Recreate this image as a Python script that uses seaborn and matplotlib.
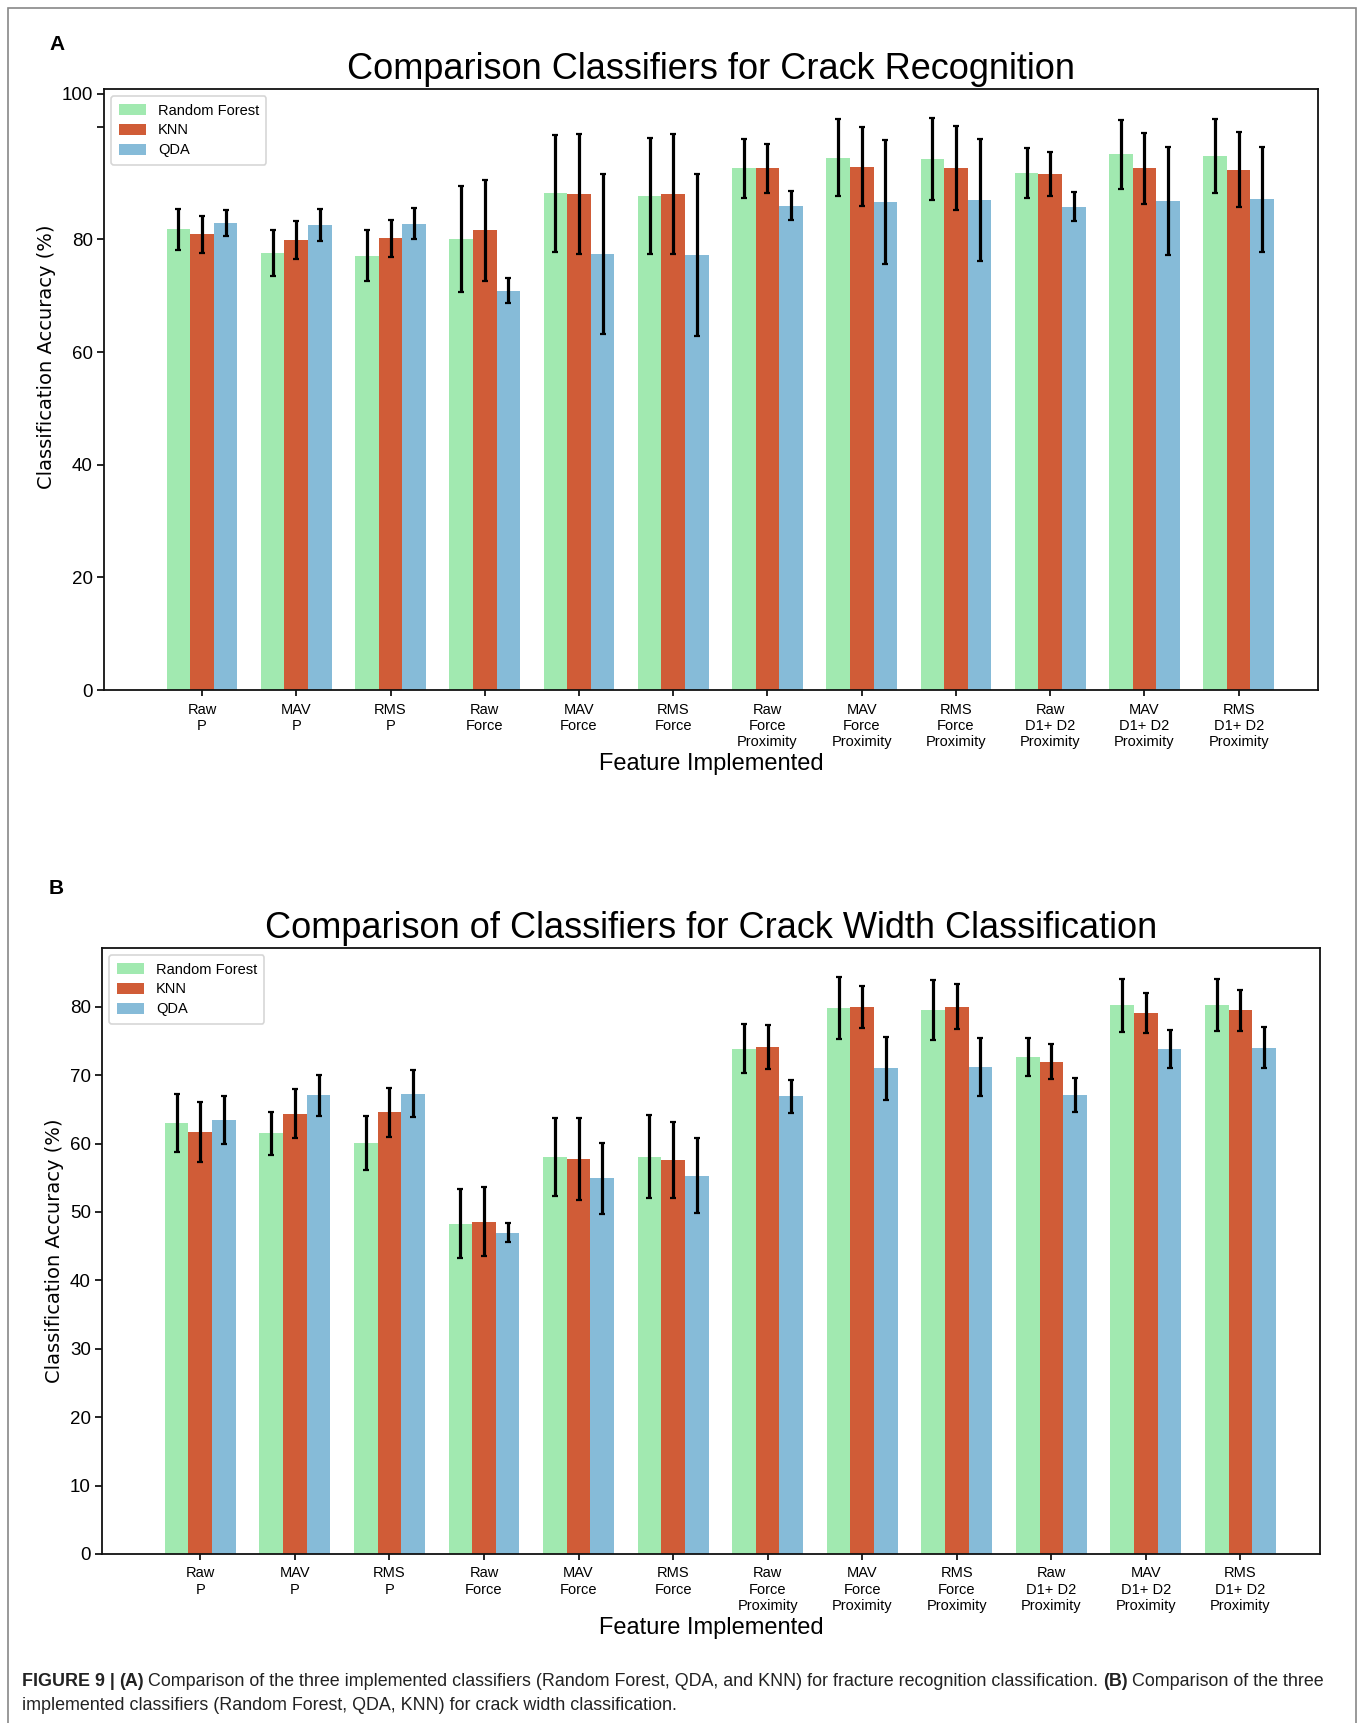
import matplotlib
matplotlib.use('Agg')
import matplotlib.pyplot as plt
from matplotlib.patches import Rectangle
import seaborn as sns
import numpy as np
import pandas as pd

features = ['Raw\nP', 'MAV\nP', 'RMS\nP', 'Raw\nForce', 'MAV\nForce', 'RMS\nForce',
            'Raw\nForce\nProximity', 'MAV\nForce\nProximity', 'RMS\nForce\nProximity',
            'Raw\nD1+ D2\nProximity', 'MAV\nD1+ D2\nProximity', 'RMS\nD1+ D2\nProximity']
classifiers = ['Random Forest', 'KNN', 'QDA']
colors = ['#a1e9b0', '#d05c37', '#86bbd8']

# panel A - crack recognition
rf_a = [81.8, 77.6, 77.1, 80.1, 88.2, 87.8, 92.6, 94.5, 94.3, 91.8, 95.1, 94.8]
rf_a_err = [3.6, 4.1, 4.5, 9.4, 10.4, 10.3, 5.2, 6.8, 7.3, 4.5, 6.1, 6.5]
knn_a = [80.9, 79.9, 80.2, 81.6, 88.1, 88.1, 92.6, 92.9, 92.7, 91.6, 92.6, 92.4]
knn_a_err = [3.3, 3.3, 3.3, 9.0, 10.7, 10.6, 4.3, 7.0, 7.5, 3.9, 6.3, 6.7]
qda_a = [83.0, 82.6, 82.8, 70.9, 77.5, 77.2, 86.0, 86.7, 87.0, 85.8, 86.8, 87.1]
qda_a_err = [2.3, 2.8, 2.8, 2.2, 14.2, 14.4, 2.6, 11.0, 10.8, 2.6, 9.6, 9.4]

# panel B - crack width
rf_b = [63.0, 61.5, 60.1, 48.3, 58.0, 58.1, 73.9, 79.8, 79.5, 72.7, 80.2, 80.3]
rf_b_err = [4.2, 3.1, 3.9, 5.0, 5.7, 6.1, 3.6, 4.5, 4.4, 2.8, 3.9, 3.8]
knn_b = [61.7, 64.4, 64.6, 48.6, 57.7, 57.6, 74.1, 80.0, 80.0, 72.0, 79.1, 79.5]
knn_b_err = [4.4, 3.6, 3.6, 5.0, 6.0, 5.6, 3.2, 3.1, 3.3, 2.6, 2.9, 3.0]
qda_b = [63.5, 67.1, 67.3, 47.0, 54.9, 55.3, 66.9, 71.0, 71.2, 67.1, 73.8, 74.0]
qda_b_err = [3.5, 3.0, 3.4, 1.4, 5.2, 5.5, 2.4, 4.6, 4.2, 2.5, 2.8, 3.0]

sns.set_theme(style='ticks')
plt.rcParams['font.family'] = ['Liberation Sans', 'DejaVu Sans']
plt.rcParams['text.color'] = 'black'
plt.rcParams['axes.labelcolor'] = 'black'
plt.rcParams['xtick.color'] = 'black'
plt.rcParams['ytick.color'] = 'black'


def make_df(rf, knn, qda):
    rows = []
    for clf, vals in zip(classifiers, [rf, knn, qda]):
        for f, v in zip(features, vals):
            rows.append({'feature': f, 'acc': v, 'clf': clf})
    return pd.DataFrame(rows)


def draw_panel(ax, df, errs, title):
    sns.barplot(data=df, x='feature', y='acc', hue='clf', order=features,
                hue_order=classifiers, palette=colors, width=0.75,
                errorbar=None, saturation=1, linewidth=0, ax=ax)
    for cont, err in zip(ax.containers, errs):
        xs = [b.get_x() + b.get_width() / 2 for b in cont]
        ys = [b.get_height() for b in cont]
        ax.errorbar(xs, ys, yerr=err, fmt='none', ecolor='black',
                    elinewidth=2.3, capsize=2.2, capthick=1.6, zorder=5)
    ax.set_xlim(-1.04, 11.84)
    ax.set_title(title, fontsize=26, pad=7)
    ax.set_xlabel('Feature Implemented', fontsize=17, labelpad=3)
    ax.set_ylabel('Classification Accuracy (%)', fontsize=14,
                  family='DejaVu Sans', labelpad=4)
    ax.tick_params(axis='x', labelsize=10.5, length=4, width=1.2, pad=5)
    ax.tick_params(axis='y', labelsize=13.5, length=5, width=1.2, pad=3)
    for s in ax.spines.values():
        s.set_linewidth(1.3)
        s.set_color('#111111')
    leg = ax.legend(loc='upper left', fontsize=10.5, frameon=True,
                    borderaxespad=0.5, handlelength=1.9, handleheight=0.8,
                    labelspacing=0.4, borderpad=0.5)
    leg.get_frame().set_edgecolor('#cccccc')
    leg.get_frame().set_linewidth(1.2)


fig = plt.figure(figsize=(13.63, 17.23), dpi=100)
fig.patch.set_facecolor('white')

ax_a = fig.add_axes([0.0763, 0.5995, 0.8906, 0.3488])
ax_b = fig.add_axes([0.0748, 0.0981, 0.8936, 0.3517])

draw_panel(ax_a, make_df(rf_a, knn_a, qda_a), [rf_a_err, knn_a_err, qda_a_err],
           'Comparison Classifiers for Crack Recognition')
ax_a.set_ylim(0, 106.7)
ax_a.set_yticks([0, 20, 40, 60, 80, 100, 105.9])
ax_a.set_yticklabels(['0', '20', '40', '60', '80', '', '100'])

draw_panel(ax_b, make_df(rf_b, knn_b, qda_b), [rf_b_err, knn_b_err, qda_b_err],
           'Comparison of Classifiers for Crack Width Classification')
ax_b.set_ylim(0, 88.6)
ax_b.set_yticks(np.arange(0, 81, 10))

# panel A's y label sits above the axes centre in the original
fig.canvas.draw()
ax_a.yaxis.label.set_y(0.554)

fig.text(0.036, 0.974, 'A', fontsize=15, fontweight='bold', va='center')
fig.text(0.036, 0.4846, 'B', fontsize=15, fontweight='bold', va='center')

# outer frame
fig.patches.append(Rectangle((8 / 1363, -0.01), 1348 / 1363, 1.01 - 8 / 1723,
                             transform=fig.transFigure, fill=False,
                             edgecolor='#888888', linewidth=1.2))

# caption with bold pieces
cap_size = 12.9
cap_color = '#222222'
line1 = [('FIGURE 9 |', 'bold'), ('(A)', 'bold'),
         ('Comparison of the three implemented classifiers (Random Forest, QDA, and KNN) for fracture recognition classification.', 'normal'),
         ('(B)', 'bold'), ('Comparison of the three', 'normal')]
renderer = fig.canvas.get_renderer()
x_px = 22
y1 = 1 - 1681 / 1723
gap = 4.5
for txt, w in line1:
    t = fig.text(x_px / 1363, y1, txt, fontsize=cap_size, fontweight=w,
                 color=cap_color, va='center')
    bb = t.get_window_extent(renderer)
    x_px = bb.x1 + gap
fig.text(22 / 1363, 1 - 1706 / 1723,
         'implemented classifiers (Random Forest, QDA, KNN) for crack width classification.',
         fontsize=cap_size, color=cap_color, va='center')

fig.savefig('out.png', dpi=100, facecolor='white')
